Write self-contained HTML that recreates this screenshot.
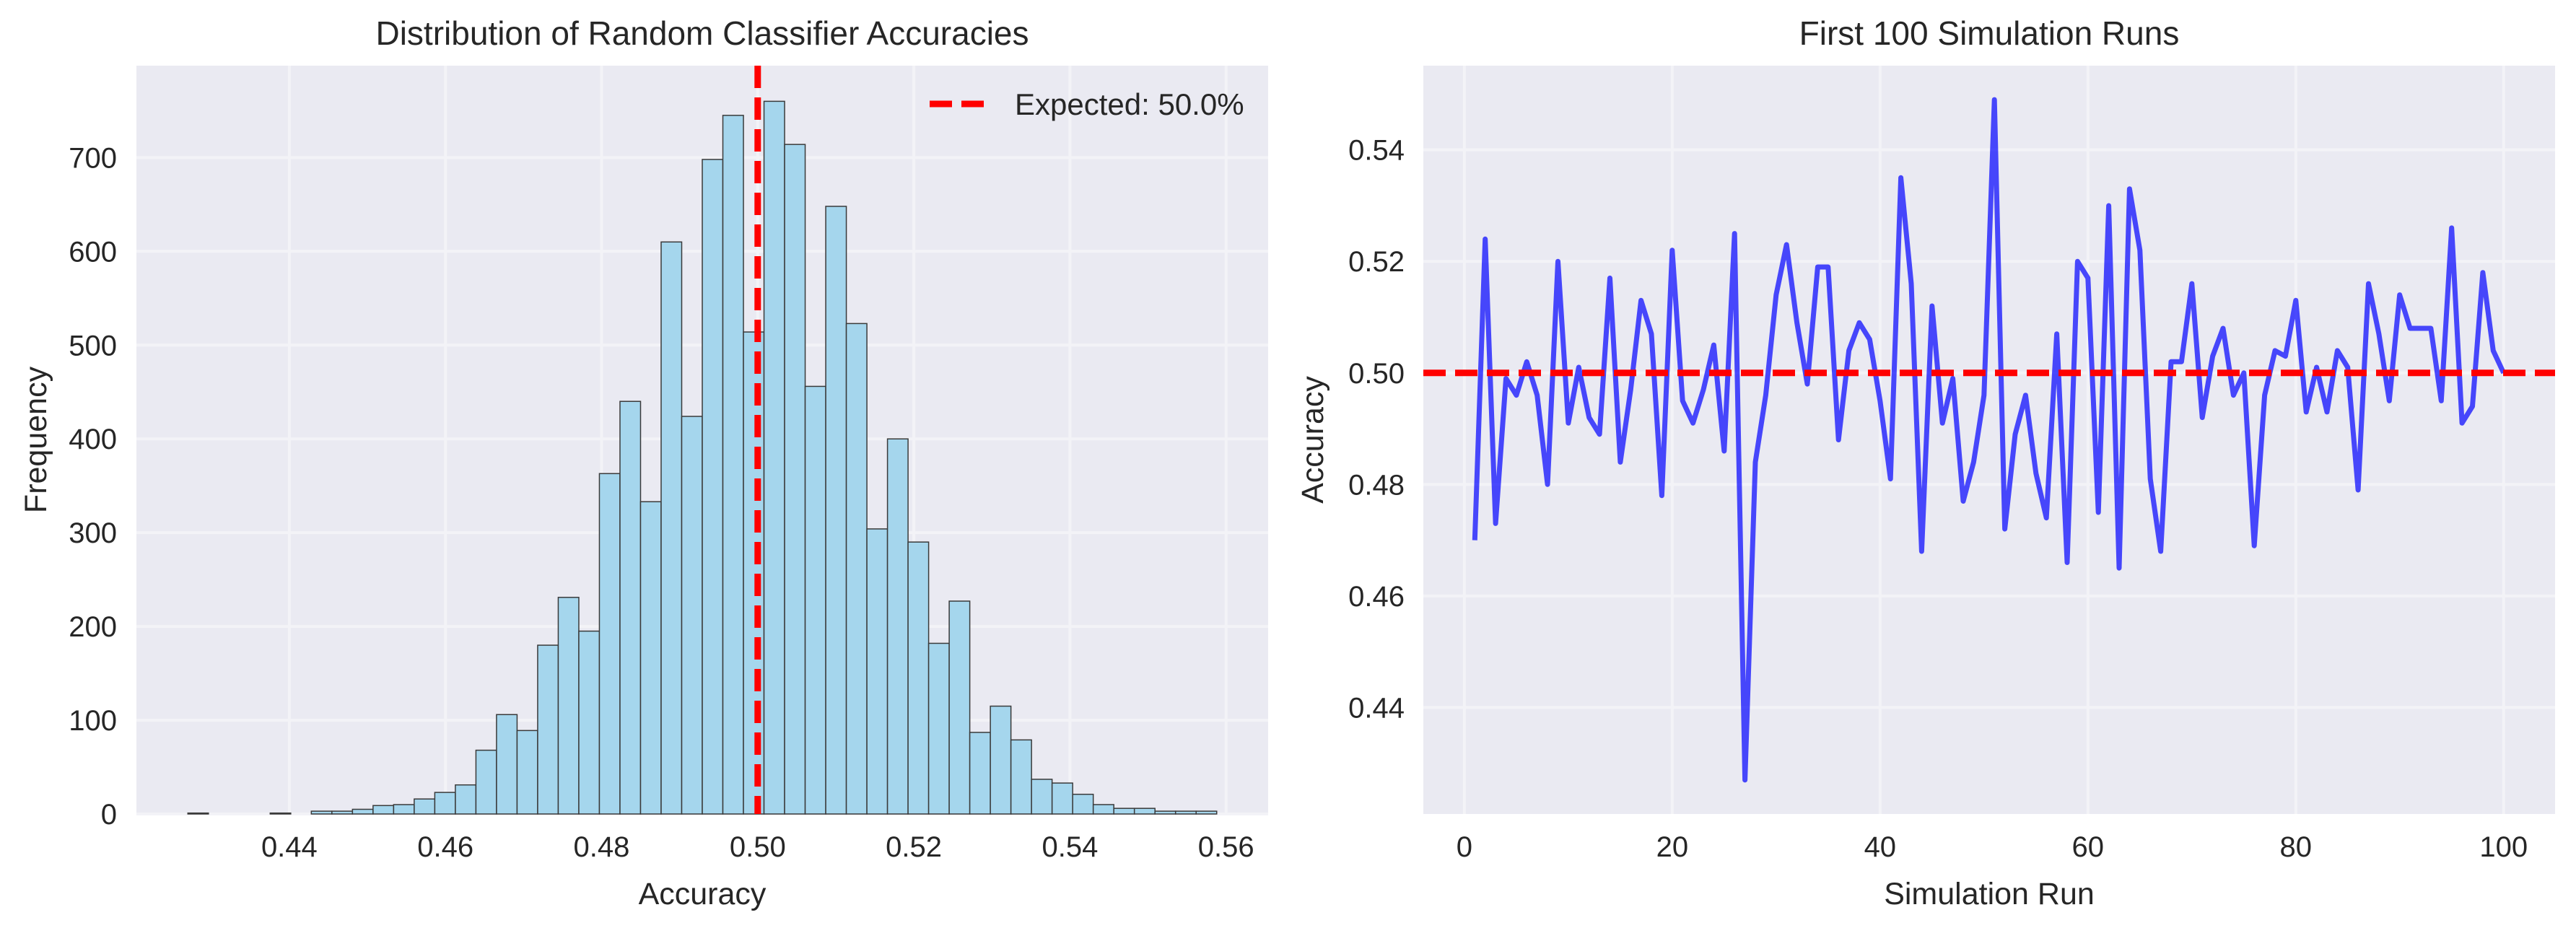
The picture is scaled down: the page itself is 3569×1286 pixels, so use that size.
<!DOCTYPE html>
<html><head><meta charset="utf-8">
<style>
html,body{margin:0;padding:0;background:#fff;}
svg{display:block;font-family:"Liberation Sans",Arial,sans-serif;}
</style></head>
<body>
<svg id="fig" width="3569" height="1286" viewBox="0 0 3569 1286" xmlns="http://www.w3.org/2000/svg">
<rect width="3569" height="1286" fill="#ffffff"/>
<g id="left"></g>
<g id="right"></g>
</svg>
<script>
const histCounts = [1,0,0,0,1,0,3,3,5,9,10,16,23,31,68,106,89,180,231,195,363,440,333,610,424,698,745,514,760,714,456,648,523,304,400,290,182,227,87,115,79,37,33,21,10,6,6,3,3,3];
const histStart = 0.427;
const histEnd = 0.5588;
const histXTicks = [0.44,0.46,0.48,0.50,0.52,0.54,0.56];
const histYTicks = [0,100,200,300,400,500,600,700];
const expectedValue = 0.5;
const runValues = [0.470,0.524,0.473,0.499,0.496,0.502,0.496,0.480,0.520,0.491,0.501,0.492,0.489,0.517,0.484,0.497,0.513,0.507,0.478,0.522,0.495,0.491,0.497,0.505,0.486,0.525,0.427,0.484,0.496,0.514,0.523,0.509,0.498,0.519,0.519,0.488,0.504,0.509,0.506,0.495,0.481,0.535,0.516,0.468,0.512,0.491,0.499,0.477,0.484,0.496,0.549,0.472,0.489,0.496,0.482,0.474,0.507,0.466,0.520,0.517,0.475,0.530,0.465,0.533,0.522,0.481,0.468,0.502,0.502,0.516,0.492,0.503,0.508,0.496,0.500,0.469,0.496,0.504,0.503,0.513,0.493,0.501,0.493,0.504,0.501,0.479,0.516,0.507,0.495,0.514,0.508,0.508,0.508,0.495,0.526,0.491,0.494,0.518,0.504,0.500];
const runXTicks = [0,20,40,60,80,100];
const runYTicks = [0.44,0.46,0.48,0.50,0.52,0.54];

const NS = "http://www.w3.org/2000/svg";
function mk(parent, tag, attrs, text){
  const e = document.createElementNS(NS, tag);
  for (const k in attrs) e.setAttribute(k, attrs[k]);
  if (text !== undefined) e.textContent = text;
  parent.appendChild(e);
  return e;
}
const TOP = 91, BOT = 1128;

// ---------- LEFT ----------
(function(){
  const g = document.getElementById('left');
  const L = 189, R = 1757;
  const nb = histCounts.length;
  const bw = (histEnd - histStart) / nb;
  const span = histEnd - histStart;
  const xmin = histStart - span*0.05, xmax = histEnd + span*0.05;
  const ymax = Math.max(...histCounts) * 1.05;
  const sx = v => L + (v - xmin) / (xmax - xmin) * (R - L);
  const sy = v => BOT - v / ymax * (BOT - TOP);
  const bg = mk(g, 'rect', {x:L, y:TOP, width:R-L, height:BOT-TOP, fill:'#eaeaf2'});
  
  
  histXTicks.forEach(t => {
    const x = sx(t);
    const gl = mk(g, 'line', {x1:x, x2:x, y1:TOP, y2:BOT, stroke:'#f3f3f7', 'stroke-width':4});
    
    
    const tl = mk(g, 'text', {x:x, y:1187, 'font-size':40, fill:'#262626', 'text-anchor':'middle'}, t.toFixed(2));
    
    
  });
  histYTicks.forEach(t => {
    const y = sy(t);
    const gl = mk(g, 'line', {x1:L, x2:R, y1:y, y2:y, stroke:'#f3f3f7', 'stroke-width':4});
    
    
    const tl = mk(g, 'text', {x:162, y:y+14, 'font-size':40, fill:'#262626', 'text-anchor':'end'}, String(t));
    
    
  });
  histCounts.forEach((c, i) => {
    const x0 = sx(histStart + i*bw), x1 = sx(histStart + (i+1)*bw);
    const r = mk(g, 'rect', {x:x0, y:sy(c), width:x1-x0, height:BOT-sy(c), fill:'#a5d6ed', stroke:'#3a3a3a', 'stroke-width':1.5});
    
    
  });
  const ex = sx(expectedValue);
  const rl = mk(g, 'line', {x1:ex, x2:ex, y1:TOP, y2:BOT, stroke:'#ff0000', 'stroke-width':9, 'stroke-dasharray':'31 13'});
  
  
  const lg = mk(g, 'g', {});
  
  
  mk(lg, 'line', {x1:1288, x2:1363, y1:144, y2:144, stroke:'#ff0000', 'stroke-width':9, 'stroke-dasharray':'31 13'});
  const lt = mk(lg, 'text', {x:1406, y:159, 'font-size':42, fill:'#262626'}, 'Expected: 50.0%');
  
  
  const tt = mk(g, 'text', {x:(L+R)/2, y:62, 'font-size':46, fill:'#262626', 'text-anchor':'middle'}, 'Distribution of Random Classifier Accuracies');
  
  
  const xl = mk(g, 'text', {x:(L+R)/2, y:1253, 'font-size':43, fill:'#262626', 'text-anchor':'middle'}, 'Accuracy');
  
  
  const yl = mk(g, 'text', {x:0, y:0, 'font-size':43, fill:'#262626', 'text-anchor':'middle', transform:'translate(64,'+((TOP+BOT)/2)+') rotate(-90)'}, 'Frequency');
  
  
})();

// ---------- RIGHT ----------
(function(){
  const g = document.getElementById('right');
  const L = 1972, R = 3540;
  const n = runValues.length;
  const xmin = 1 - (n-1)*0.05, xmax = n + (n-1)*0.05;
  const vmin = Math.min(...runValues), vmax = Math.max(...runValues);
  const ymin = vmin - (vmax-vmin)*0.05, ymax = vmax + (vmax-vmin)*0.05;
  const sx = v => L + (v - xmin) / (xmax - xmin) * (R - L);
  const sy = v => BOT - (v - ymin) / (ymax - ymin) * (BOT - TOP);
  const bg = mk(g, 'rect', {x:L, y:TOP, width:R-L, height:BOT-TOP, fill:'#eaeaf2'});
  
  
  runXTicks.forEach(t => {
    const x = sx(t);
    const gl = mk(g, 'line', {x1:x, x2:x, y1:TOP, y2:BOT, stroke:'#f3f3f7', 'stroke-width':4});
    
    
    const tl = mk(g, 'text', {x:x, y:1187, 'font-size':40, fill:'#262626', 'text-anchor':'middle'}, String(t));
    
    
  });
  runYTicks.forEach(t => {
    const y = sy(t);
    const gl = mk(g, 'line', {x1:L, x2:R, y1:y, y2:y, stroke:'#f3f3f7', 'stroke-width':4});
    
    
    const tl = mk(g, 'text', {x:1946, y:y+14, 'font-size':40, fill:'#262626', 'text-anchor':'end'}, t.toFixed(2));
    
    
  });
  const pts = runValues.map((v,i) => sx(i+1).toFixed(1)+','+sy(v).toFixed(1)).join(' ');
  const pl = mk(g, 'polyline', {points:pts, fill:'none', stroke:'#0000ff', 'stroke-opacity':0.7, 'stroke-width':7, 'stroke-linejoin':'round'});
  
  
  const ey = sy(expectedValue);
  const rl = mk(g, 'line', {x1:L, x2:R, y1:ey, y2:ey, stroke:'#ff0000', 'stroke-width':9, 'stroke-dasharray':'31 13'});
  
  
  const tt = mk(g, 'text', {x:(L+R)/2, y:62, 'font-size':46, fill:'#262626', 'text-anchor':'middle'}, 'First 100 Simulation Runs');
  
  
  const xl = mk(g, 'text', {x:(L+R)/2, y:1253, 'font-size':43, fill:'#262626', 'text-anchor':'middle'}, 'Simulation Run');
  
  
  const yl = mk(g, 'text', {x:0, y:0, 'font-size':43, fill:'#262626', 'text-anchor':'middle', transform:'translate(1833,'+((TOP+BOT)/2)+') rotate(-90)'}, 'Accuracy');
  
  
})();
</script>
</body></html>
